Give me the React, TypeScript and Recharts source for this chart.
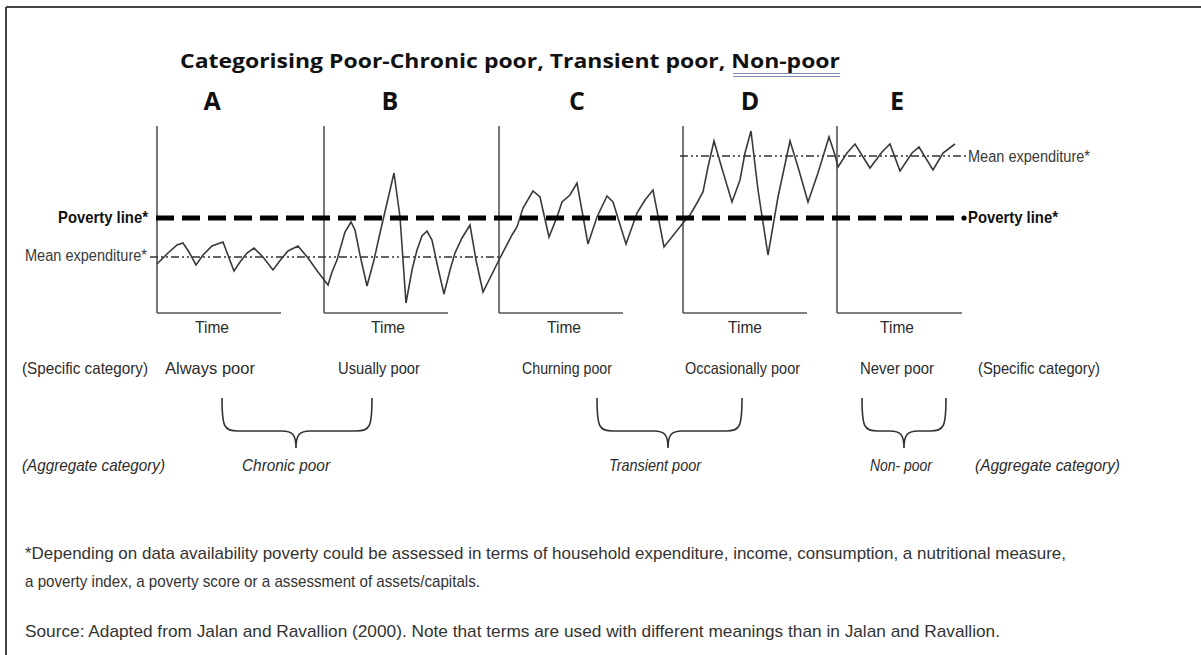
import { ComposedChart, Line, XAxis, YAxis, ReferenceLine, ReferenceDot } from 'recharts';

// time position of each reading (one continuous household path across panels A-E)
const time = [
  0, 11, 20, 26, 32, 39, 46, 55, 66, 77, 83, 90, 97, 106, 116, 125, 131, 141, 151, 161, 171,
  175, 180, 188, 194, 198, 203, 210, 217, 223, 237, 243, 249, 255, 260, 265, 270, 275, 281, 287,
  293, 298, 305, 313, 319, 326, 343, 355,
  360, 366, 376, 383, 392, 400, 405, 413, 420, 431, 440, 450, 456, 469, 480, 488, 496, 507, 526,
  533, 540, 546, 551,
  557, 566, 575, 583, 588, 594, 601, 611, 621, 633, 641, 651, 661, 672, 678, 681,
  690, 698, 713, 725, 733, 743, 755, 762, 776, 786, 798,
];

// expenditure level at each reading
const expenditure = [
  49, 60, 68, 70, 61, 48, 58, 67, 71, 42, 51, 60, 65, 56, 43, 55, 62, 67, 55, 41, 28,
  41, 53, 81, 91, 83, 58, 27, 53, 80, 140, 96, 10, 43, 63, 77, 82, 73, 45, 19,
  43, 60, 75, 88, 53, 21, 55, 78,
  86, 105, 122, 116, 76, 96, 111, 118, 130, 69, 96, 117, 111, 69, 100, 113, 123, 66, 90,
  98, 110, 121, 146,
  172, 141, 111, 133, 160, 182, 123, 58, 116, 172, 146, 111, 140, 176, 158, 146,
  160, 169, 145, 161, 169, 142, 160, 166, 143, 160, 169,
];

const povertyLine = 95;
const meanLow = 56;
const meanHigh = 157;

const panelLetters = ['A', 'B', 'C', 'D', 'E'];
const panelStart = [0, 167, 342, 526, 680];
const panelEnd = [124, 291, 466, 650, 805];
const axisTop = 187;

const specificLabels = ['Always poor', 'Usually poor', 'Churning poor', 'Occasionally poor', 'Never poor'];
const aggregateLabels = ['Chronic poor', 'Transient poor', 'Non- poor'];

const data = time.map((t, i) => ({ t, v: expenditure[i] }));

const NARROW = "'Liberation Sans Narrow', 'Arial Narrow', 'Liberation Sans', Arial, sans-serif";
const TITLE_FONT = "'Open Sans', 'Noto Sans', sans-serif";
const INK = '#2b2b2b';

function Txt({ x, y, w, size = 16.5, anchor = 'start', bold = false, italic = false, fill = INK, children }: any) {
  return (
    <text
      x={x}
      y={y}
      fontFamily={NARROW}
      fontSize={size}
      fontWeight={bold ? 700 : 400}
      fontStyle={italic ? 'italic' : 'normal'}
      fill={fill}
      textAnchor={anchor}
      textLength={w}
      lengthAdjust="spacingAndGlyphs"
    >
      {children}
    </text>
  );
}

function Brace({ x1, x2, tip }: { x1: number; x2: number; tip: number }) {
  const top = 398;
  const flat = 431;
  const end = 448;
  const d =
    `M ${x1} ${top} C ${x1} ${flat - 4} ${x1 + 2} ${flat} ${x1 + 16} ${flat} ` +
    `L ${tip - 14} ${flat} C ${tip - 4} ${flat} ${tip} ${flat + 3} ${tip} ${end} ` +
    `C ${tip} ${flat + 3} ${tip + 4} ${flat} ${tip + 14} ${flat} ` +
    `L ${x2 - 16} ${flat} C ${x2 - 2} ${flat} ${x2} ${flat - 4} ${x2} ${top}`;
  return <path d={d} fill="none" stroke="#333" strokeWidth={1.6} />;
}

export default function App() {
  const letterX = [212, 390, 577, 750, 897];
  const timeX = [212, 388, 564, 745, 897];
  const specX = [165, 338, 522, 685, 860];
  const specW = [90, 82, 90, 115, 74];

  return (
    <div style={{ position: 'absolute', left: 0, top: 0, width: 1201, height: 655, background: '#fff' }}>
      <ComposedChart
        width={1201}
        height={655}
        data={data}
        margin={{ top: 113, right: 224, bottom: 342, left: 147 }}
      >
        <XAxis dataKey="t" type="number" domain={[-10, 820]} hide allowDataOverflow />
        <YAxis type="number" domain={[0, 200]} hide allowDataOverflow />

        {/* panel axes */}
        {panelLetters.map((p, i) => (
          <ReferenceLine
            key={`v${p}`}
            segment={[{ x: panelStart[i], y: 0 }, { x: panelStart[i], y: axisTop }]}
            stroke="#555"
            strokeWidth={1.6}
          />
        ))}
        {panelLetters.map((p, i) => (
          <ReferenceLine
            key={`h${p}`}
            segment={[{ x: panelStart[i], y: 0 }, { x: panelEnd[i], y: 0 }]}
            stroke="#555"
            strokeWidth={1.6}
          />
        ))}

        {/* mean expenditure levels */}
        <ReferenceLine
          segment={[{ x: -7, y: meanLow }, { x: 343, y: meanLow }]}
          stroke="#333"
          strokeWidth={1.3}
          strokeDasharray="8 3 2 3 2 3"
        />
        <ReferenceLine
          segment={[{ x: 523, y: meanHigh }, { x: 809, y: meanHigh }]}
          stroke="#333"
          strokeWidth={1.3}
          strokeDasharray="8 3 2 3 2 3"
        />

        <Line
          type="linear"
          dataKey="v"
          stroke="#3a3a3a"
          strokeWidth={1.6}
          dot={false}
          isAnimationActive={false}
        />

        {/* poverty line */}
        <ReferenceLine
          segment={[{ x: -1, y: povertyLine }, { x: 803, y: povertyLine }]}
          stroke="#000"
          strokeWidth={5}
          strokeDasharray="18 8"
        />
        <ReferenceDot x={807} y={povertyLine} r={2.6} fill="#000" stroke="none" />
      </ComposedChart>

      <svg
        width={1201}
        height={655}
        style={{ position: 'absolute', left: 0, top: 0, pointerEvents: 'none' }}
      >
        {/* frame */}
        <line x1={6} y1={7} x2={1201} y2={7} stroke="#444" strokeWidth={2} />
        <line x1={6} y1={7} x2={6} y2={655} stroke="#444" strokeWidth={2} />

        {/* title */}
        <text
          x={180}
          y={68}
          fontFamily={TITLE_FONT}
          fontSize={20}
          fontWeight={700}
          fill="#111"
          textLength={660}
          lengthAdjust="spacingAndGlyphs"
        >
          Categorising Poor-Chronic poor, Transient poor, Non-poor
        </text>
        <line x1={733} y1={73.5} x2={840} y2={73.5} stroke="#7d8db3" strokeWidth={1} />
        <line x1={733} y1={76.5} x2={840} y2={76.5} stroke="#7d8db3" strokeWidth={1} />

        {panelLetters.map((p, i) => (
          <text
            key={p}
            x={letterX[i]}
            y={110}
            fontFamily={TITLE_FONT}
            fontSize={25}
            fontWeight={700}
            fill="#111"
            textAnchor="middle"
          >
            {p}
          </text>
        ))}

        {/* left labels */}
        <Txt x={58} y={223} w={90} size={16.5} bold fill="#111">Poverty line*</Txt>
        <Txt x={25} y={261} w={122} size={16} fill="#3a3a3a">Mean expenditure*</Txt>

        {/* right labels */}
        <Txt x={968} y={162} w={122} size={16} fill="#3a3a3a">Mean expenditure*</Txt>
        <Txt x={968} y={223} w={90} size={16.5} bold fill="#111">Poverty line*</Txt>

        {timeX.map((x, i) => (
          <Txt key={`time${i}`} x={x} y={333} w={34} anchor="middle">
            Time
          </Txt>
        ))}

        <Txt x={22} y={374} w={126}>(Specific category)</Txt>
        {specificLabels.map((s, i) => (
          <Txt key={s} x={specX[i]} y={374} w={specW[i]}>
            {s}
          </Txt>
        ))}
        <Txt x={978} y={374} w={122}>(Specific category)</Txt>

        <Brace x1={222} x2={372} tip={296} />
        <Brace x1={597} x2={742} tip={668} />
        <Brace x1={862} x2={946} tip={904} />

        <Txt x={22} y={471} w={143} italic>(Aggregate category)</Txt>
        <Txt x={242} y={471} w={88} italic>{aggregateLabels[0]}</Txt>
        <Txt x={609} y={471} w={92} italic>{aggregateLabels[1]}</Txt>
        <Txt x={870} y={471} w={62} italic>{aggregateLabels[2]}</Txt>
        <Txt x={975} y={471} w={145} italic>(Aggregate category)</Txt>

        {/* footnotes */}
        <Txt x={25} y={559} w={1041} size={17} fill="#333">
          *Depending on data availability poverty could be assessed in terms of household expenditure, income, consumption, a nutritional measure,
        </Txt>
        <Txt x={25} y={587} w={455} size={17} fill="#333">
          a poverty index, a poverty score or a assessment of assets/capitals.
        </Txt>
        <Txt x={25} y={637} w={975} size={17} fill="#333">
          Source: Adapted from Jalan and Ravallion (2000). Note that terms are used with different meanings than in Jalan and Ravallion.
        </Txt>
      </svg>
    </div>
  );
}
